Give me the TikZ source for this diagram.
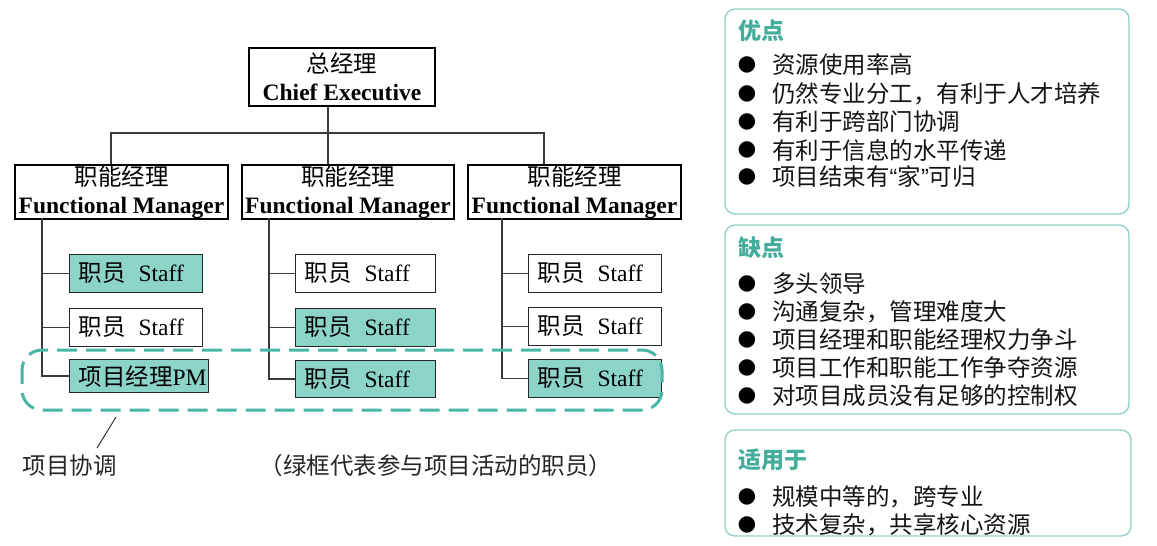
\documentclass[tikz,border=0pt]{standalone}
\usepackage{fontspec}
\setmainfont{Liberation Serif}
\newfontfamily\song{Noto Sans CJK SC}
\newfontfamily\hei{Noto Sans CJK SC}
\newfontfamily\latsans{Liberation Sans}
\newfontfamily\dejavu{DejaVu Sans}
\definecolor{tealfill}{HTML}{8DD4C8}
\definecolor{tealdash}{HTML}{48B5A5}
\definecolor{tealtitle}{HTML}{45AD9C}
\definecolor{tealpanel}{HTML}{8CCFC6}
\definecolor{conn}{HTML}{3A3A3A}
\begin{document}
\begin{tikzpicture}[x=1pt,y=-1pt,
  mgrbox/.style={draw=black, line width=1.7pt, inner sep=0pt, minimum width=213pt, minimum height=54pt,
    align=center, font=\fontsize{23.5}{27.5}\selectfont},
  staffbox/.style={draw=black!85, line width=1.2pt, anchor=north west, inner xsep=9pt, inner ysep=0pt,
    minimum height=38pt, text width=#1, align=left, font=\fontsize{23.5}{27}\selectfont},
  connector/.style={draw=conn, line width=1.3pt},
  panel/.style={draw=tealpanel, line width=1.3pt, rounded corners=10pt},
  ptitle/.style={anchor=west, inner sep=0pt, font=\fontsize{23}{27}\hei\bfseries, text=tealtitle},
  ptext/.style={anchor=west, inner sep=0pt, font=\fontsize{23.5}{27}\hei, text=black!92},
  pbullet/.style={inner sep=0pt, font=\fontsize{21.5}{24}\dejavu, text=black},
  note/.style={inner sep=0pt, font=\fontsize{23.5}{26}\hei, text=black!85}
]
\useasboundingbox (0,0) rectangle (1157,546);

% ---------- chart ----------
\node[mgrbox, minimum width=186pt, minimum height=58pt] (ce) at (342,77) {{\song 总经理}\\\textbf{Chief Executive}};
\node[mgrbox] (fm1) at (121.5,192) {{\song 职能经理}\\\textbf{Functional Manager}};
\node[mgrbox, minimum width=212pt] (fm2) at (348,192) {{\song 职能经理}\\\textbf{Functional Manager}};
\node[mgrbox] (fm3) at (574.5,192) {{\song 职能经理}\\\textbf{Functional Manager}};

\coordinate (j1) at (111,133);
\coordinate (j2) at (328,133);
\coordinate (j3) at (544,133);
\draw[connector] (ce.south -| j2) -- (j2);
\draw[connector] (fm1.north -| j1) |- (j3) -- (fm3.north -| j3);
\draw[connector] (j2) -- (fm2.north -| j2);

% column 1
\node[staffbox=115pt, fill=tealfill] (s11) at (69,254) {{\song 职员}\hspace{13pt}Staff};
\node[staffbox=115pt] (s12) at (69,308) {{\song 职员}\hspace{13pt}Staff};
\node[staffbox=121pt, fill=tealfill, minimum height=33pt] (s13) at (69,359) {{\song 项目经理}PM};
% column 2
\node[staffbox=122pt] (s21) at (295,254) {{\song 职员}\hspace{13pt}Staff};
\node[staffbox=122pt, fill=tealfill] (s22) at (295,308) {{\song 职员}\hspace{13pt}Staff};
\node[staffbox=122pt, fill=tealfill, minimum height=37pt] (s23) at (295,360) {{\song 职员}\hspace{13pt}Staff};
% column 3
\node[staffbox=115pt] (s31) at (528,254) {{\song 职员}\hspace{13pt}Staff};
\node[staffbox=115pt] (s32) at (528,307) {{\song 职员}\hspace{13pt}Staff};
\node[staffbox=115pt, fill=tealfill] (s33) at (528,359) {{\song 职员}\hspace{13pt}Staff};

\coordinate (v1) at (42,218);
\coordinate (v2) at (269,218);
\coordinate (v3) at (502,218);
\draw[connector] (v1) |- (s13.west);
\draw[connector] (v1 |- s11.west) -- (s11.west);
\draw[connector] (v1 |- s12.west) -- (s12.west);
\draw[connector] (v2) |- (s23.west);
\draw[connector] (v2 |- s21.west) -- (s21.west);
\draw[connector] (v2 |- s22.west) -- (s22.west);
\draw[connector] (v3) |- (s33.west);
\draw[connector] (v3 |- s31.west) -- (s31.west);
\draw[connector] (v3 |- s32.west) -- (s32.west);

% dashed project group
\draw[draw=tealdash, line width=3pt, dash pattern=on 20pt off 9pt, dash phase=6pt, rounded corners=20pt]
  (22,350) rectangle (662,410);

\node[note] (lbl) at (70,466) {项目协调};
\coordinate (lt) at (116,417);
\coordinate (lb) at (97,448);
\draw[line width=1pt, draw=black!80] (lt) -- (lb);
\node[note] (legend) at (436,466) {（绿框代表参与项目活动的职员）};

% ---------- right panels ----------
\draw[panel] (725,9) rectangle (1129,214);
\node[ptitle] (t1) at (738,31) {优点};
\foreach \y/\t [count=\i] in {65/资源使用率高, 94/{仍然专业分工，有利于人才培养}, 122/有利于跨部门协调, 150/有利于信息的水平传递, 177/{项目结束有{\latsans “}家{\latsans ”}可归}}{
  \node[pbullet] (b1\i) at (747,\y) {●};
  \node[ptext] (x1\i) at (772,\y) {\t};
}

\draw[panel] (725,225) rectangle (1129,414);
\node[ptitle] (t2) at (738,248) {缺点};
\foreach \y/\t [count=\i] in {284/多头领导, 312/{沟通复杂，管理难度大}, 340/项目经理和职能经理权力争斗, 368/项目工作和职能工作争夺资源, 396/对项目成员没有足够的控制权}{
  \node[pbullet] (b2\i) at (747,\y) {●};
  \node[ptext] (x2\i) at (772,\y) {\t};
}

\draw[panel] (725,430) rectangle (1131,536);
\node[ptitle] (t3) at (738,460) {适用于};
\foreach \y/\t [count=\i] in {497/{规模中等的，跨专业}, 525/{技术复杂，共享核心资源}}{
  \node[pbullet] (b3\i) at (747,\y) {●};
  \node[ptext] (x3\i) at (772,\y) {\t};
}
\end{tikzpicture}
\end{document}
